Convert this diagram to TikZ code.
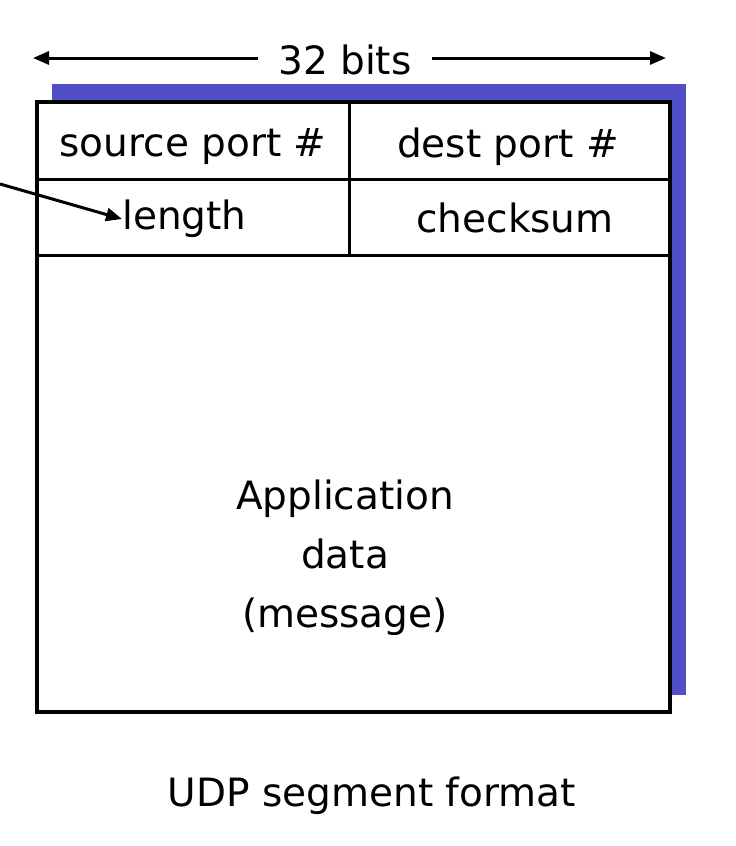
\documentclass[tikz,border=0pt]{standalone}
\usepackage{fontspec}
\setmainfont{DejaVu Sans}
\usetikzlibrary{arrows.meta}
\definecolor{shadowblue}{RGB}{82,78,200}
\begin{document}
\begin{tikzpicture}[x=1pt,y=-1pt,
  lbl/.style={font=\fontsize{39}{59}\selectfont, inner sep=0pt},
  frame/.style={line width=4pt, draw=black},
  div/.style={line width=3pt, draw=black},
  conn/.style={line width=3pt, -{Triangle[length=16pt,width=13pt]}}]
\useasboundingbox (0,0) rectangle (736,846);
\fill[shadowblue] (52,84) rectangle (686,695);
\fill[white] (37,102) rectangle (670,712);
\draw[div] (37,179) -- (670,179);
\draw[div] (37,255) -- (670,255);
\draw[div] (349,102) -- (349,255);
\draw[frame] (37,102) rectangle (670,712);
\node[lbl] (bits) at (345,60) {32 bits};
\coordinate (bl) at (33,58);
\coordinate (br) at (666,58);
\draw[conn] (bits.west |- bl) ++(-20,0) -- (bl);
\draw[conn] (bits.east |- br) ++(20,0) -- (br);
\node[lbl] (sp) at (193,147) {source port \#};
\node[lbl] (dp) at (508,147) {dest port \#};
\node[lbl,anchor=west] (len) at (122,219) {length};
\node[lbl] (cs) at (515,218) {checksum};
\node[lbl,align=center] (app) at (345,558) {Application\\data\\(message)};
\node[lbl] (cap) at (372,796) {UDP segment format};
\coordinate (src) at (0,184);
\draw[conn] (src) -- (len.west);
\end{tikzpicture}
\end{document}
